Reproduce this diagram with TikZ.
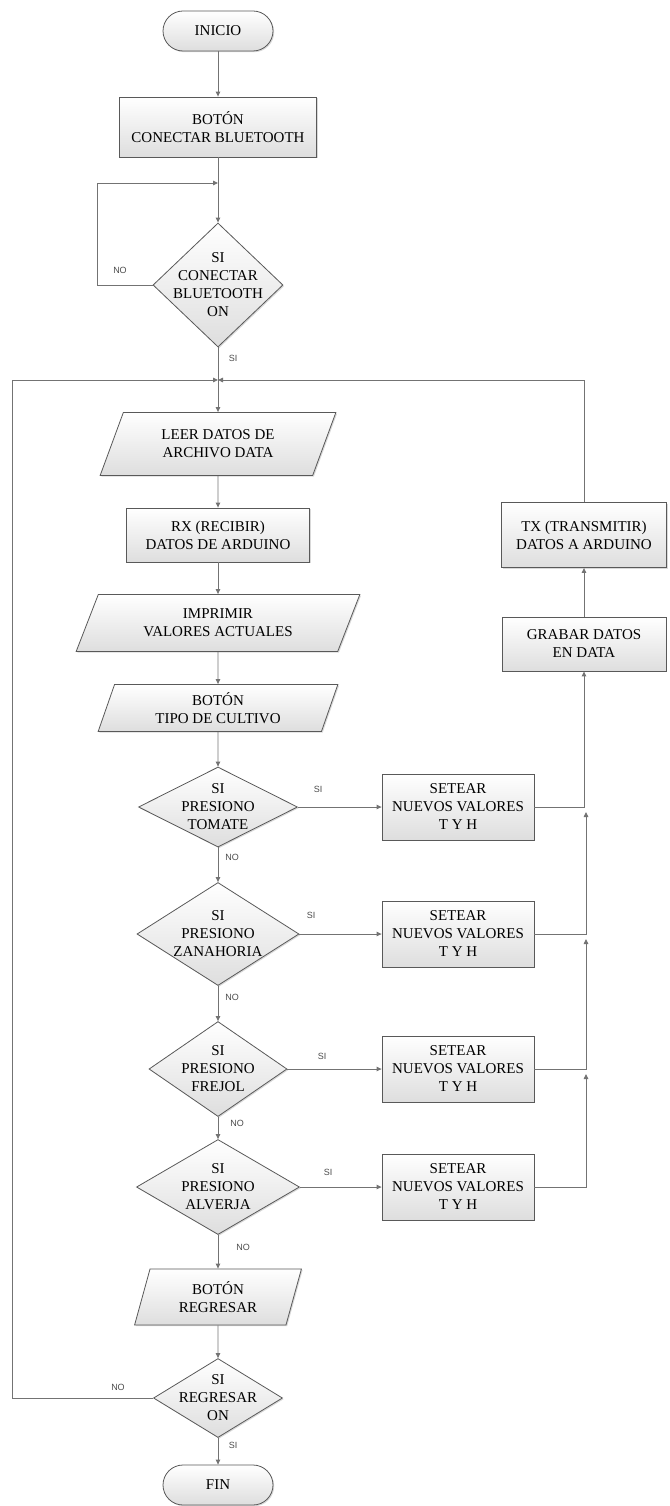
\documentclass[tikz,border=0pt]{standalone}
\usepackage{fontspec}
\setmainfont{Liberation Serif}
\newfontfamily\tagfont{Liberation Sans}
\usetikzlibrary{shapes.geometric,arrows.meta,shadows}

\tikzset{
  base/.style={draw=black!65, line width=0.8pt, top color=white, bottom color=black!13,
    drop shadow={opacity=0.3, shadow xshift=1.2pt, shadow yshift=-1.2pt},
    font=\fontsize{15}{18}\selectfont, align=center, inner sep=0pt},
  terminal/.style={base, rectangle, rounded corners=20pt, minimum width=110pt, minimum height=40pt},
  process/.style={base, rectangle},
  io/.style={base, trapezium, trapezium stretches=true},
  decision/.style={base, diamond},
  txt/.style={font=\fontsize{15}{18}\selectfont, align=center},
  tag/.style={font=\tagfont\fontsize{9}{10}\selectfont, text=black!70},
  flow/.style={draw=black!55, line width=0.9pt, -{Triangle[length=5pt,width=4.5pt]}},
}

\begin{document}
\begin{tikzpicture}[x=1pt, y=-1pt]
\useasboundingbox (0,0) rectangle (669,1506);

% main column
\node[terminal] (inicio) at (218,31) {INICIO};
\node[process, minimum width=197pt, minimum height=60pt] (bconn) at (218,127) {BOTÓN\\CONECTAR BLUETOOTH};
\node[decision, minimum width=130pt, minimum height=124pt] (d1) at (218,285) {};
\node[txt] (d1t) at (d1) {SI\\CONECTAR\\BLUETOOTH\\ON};
\node[io, minimum width=236pt, minimum height=63pt, trapezium left angle=63.8, trapezium right angle=116.2] (leer) at (218,444) {LEER DATOS DE\\ARCHIVO DATA};
\node[process, minimum width=183pt, minimum height=54pt] (rx) at (218,535) {RX (RECIBIR)\\DATOS DE ARDUINO};
\node[io, minimum width=284pt, minimum height=57pt, trapezium left angle=63.8, trapezium right angle=116.2] (impr) at (218,623) {IMPRIMIR\\VALORES ACTUALES};
\node[io, minimum width=240pt, minimum height=47pt, trapezium left angle=72.3, trapezium right angle=107.7] (tipo) at (218,708) {BOTÓN\\TIPO DE CULTIVO};

% one decision per crop
\node[decision, minimum width=159pt, minimum height=80pt] (tom) at (218,807) {};
\node[txt] (tomt) at (tom) {SI\\PRESIONO\\TOMATE};
\node[decision, minimum width=162pt, minimum height=103pt] (zan) at (218,934) {};
\node[txt] (zant) at (zan) {SI\\PRESIONO\\ZANAHORIA};
\node[decision, minimum width=138pt, minimum height=95pt] (fre) at (218,1069) {};
\node[txt] (fret) at (fre) {SI\\PRESIONO\\FREJOL};
\node[decision, minimum width=163pt, minimum height=95pt] (alv) at (218,1187) {};
\node[txt] (alvt) at (alv) {SI\\PRESIONO\\ALVERJA};

\node[io, minimum width=167pt, minimum height=56pt, trapezium left angle=74, trapezium right angle=106] (breg) at (218,1297) {BOTÓN\\REGRESAR};
\node[decision, minimum width=129pt, minimum height=79pt] (d2) at (218,1398) {};
\node[txt] (d2t) at (d2) {SI\\REGRESAR\\ON};
\node[terminal] (fin) at (218,1485) {FIN};

% right column
\foreach \y/\n in {807/1, 934/2, 1069/3, 1187/4}
  \node[process, minimum width=152pt, minimum height=66pt] (set\n) at (458,\y) {SETEAR\\NUEVOS VALORES\\T Y H};
\node[process, minimum width=164pt, minimum height=54pt] (grabar) at (584,644) {GRABAR DATOS\\EN DATA};
\node[process, minimum width=165pt, minimum height=65pt] (tx) at (584,535) {TX (TRANSMITIR)\\DATOS A ARDUINO};

\coordinate (m1) at (218,183);
\coordinate (m2) at (218,380);
\coordinate (j1) at (586,812);
\coordinate (j2) at (586,939);
\coordinate (j3) at (586,1074);

\draw[flow] (inicio) -- (bconn);
\draw[flow] (bconn) -- (d1);
\draw[flow] (d1.west) -- ++(-55,0) |- (m1);
\node[tag] (no1) at (120,270) {NO};
\draw[flow] (d1) -- (leer);
\node[tag] (si1) at (233,358) {SI};
\draw[flow] (leer) -- (rx);
\draw[flow] (rx) -- (impr);
\draw[flow] (impr) -- (tipo);
\draw[flow] (tipo) -- (tom);

\draw[flow] (tom) -- (zan);
\draw[flow] (zan) -- (fre);
\draw[flow] (fre) -- (alv);
\draw[flow] (alv) -- (breg);
\node[tag] (no2) at (232,857) {NO};
\node[tag] (no3) at (232,997) {NO};
\node[tag] (no4) at (237,1123) {NO};
\node[tag] (no5) at (243,1247) {NO};

\draw[flow] (tom.east) -- (set1.west);
\draw[flow] (zan.east) -- (set2.west);
\draw[flow] (fre.east) -- (set3.west);
\draw[flow] (alv.east) -- (set4.west);
\node[tag] (si2) at (318,789) {SI};
\node[tag] (si3) at (311,915) {SI};
\node[tag] (si4) at (322,1056) {SI};
\node[tag] (si5) at (328,1172) {SI};

\draw[flow] (set1.east) -| (grabar.south);
\draw[flow] (set2.east) -| (j1);
\draw[flow] (set3.east) -| (j2);
\draw[flow] (set4.east) -| (j3);
\draw[flow] (grabar) -- (tx);
\draw[flow] (tx.north) |- (m2);

\draw[flow] (breg) -- (d2);
\draw[flow] (d2.west) -- ++(-141,0) |- (m2);
\node[tag] (no6) at (118,1387) {NO};
\draw[flow] (d2) -- (fin);
\node[tag] (si6) at (233,1445) {SI};
\end{tikzpicture}
\end{document}
